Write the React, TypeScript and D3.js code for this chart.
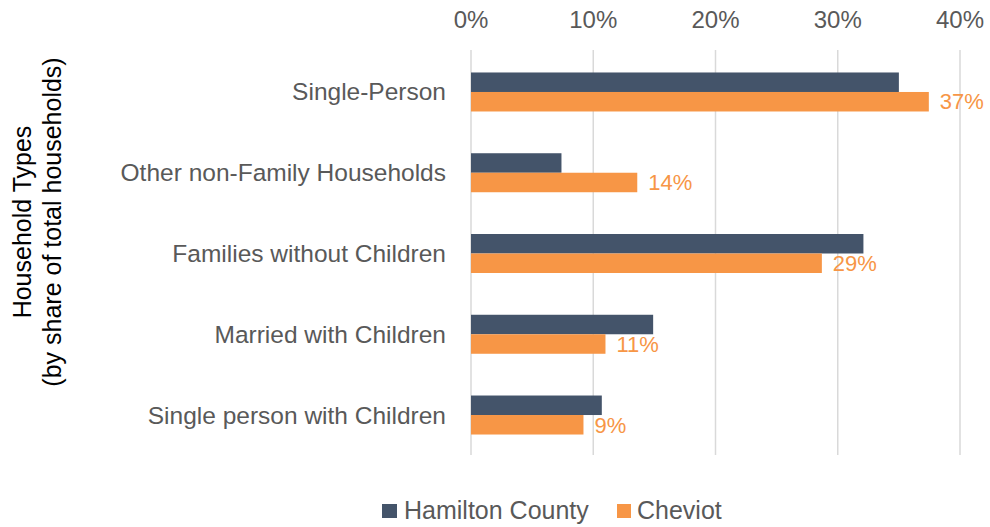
import React from "react";
import * as d3 from "d3";

const categories = [
  "Single-Person",
  "Other non-Family Households",
  "Families without Children",
  "Married with Children",
  "Single person with Children",
];
const seriesNames = ["Hamilton County", "Cheviot"];
const hamilton = [0.35, 0.074, 0.321, 0.149, 0.107];
const cheviot = [0.3745, 0.136, 0.287, 0.11, 0.092];
const xTicks = [0, 0.1, 0.2, 0.3, 0.4];

const COLORS = ["#44546A", "#F79646"];
const FONT = "'Liberation Sans', Arial, sans-serif";
const TXT = "#595959";

export default function App() {
  const W = 990, H = 527;
  const x = d3.scaleLinear().domain([0, 0.4]).range([471, 960]);
  const y = d3.scaleBand().domain(categories).range([51.6, 455.4]).paddingInner(0).paddingOuter(0);
  const barH = 19.5;
  const fmt = d3.format(".0%");
  const series = [hamilton, cheviot];

  return (
    <svg width={W} height={H} style={{ position: "absolute", left: 0, top: 0, background: "#fff" }} fontFamily={FONT}>
      {xTicks.map((t) => (
        <g key={t}>
          <line x1={x(t)} x2={x(t)} y1={50} y2={455} stroke="#D9D9D9" strokeWidth={1.5} />
          <text x={x(t)} y={28} textAnchor="middle" fontSize={24} fill={TXT}>{fmt(t)}</text>
        </g>
      ))}
      {categories.map((c, i) => {
        const cy = (y(c) as number) + y.bandwidth() / 2;
        return (
          <g key={c}>
            <text x={446} y={cy + 8.5} textAnchor="end" fontSize={24.5} fill={TXT}>{c}</text>
            {series.map((s, si) => (
              <rect key={si} x={x(0)} y={cy - barH + si * barH} width={x(s[i]) - x(0)} height={barH} fill={COLORS[si]} />
            ))}
            <text x={x(cheviot[i]) + 11} y={cy + 17.5} fontSize={22} fill={COLORS[1]}>{fmt(cheviot[i])}</text>
          </g>
        );
      })}
      <g transform="translate(31,222) rotate(-90)">
        <text textAnchor="middle" fontSize={25} fill="#000">Household Types</text>
        <text y={30} textAnchor="middle" fontSize={25} fill="#000">(by share of total households)</text>
      </g>
      <g>
        <rect x={382} y={504} width={15} height={14} fill={COLORS[0]} />
        <text x={404} y={518.5} fontSize={25} fill={TXT}>{seriesNames[0]}</text>
        <rect x={617} y={504} width={14} height={14} fill={COLORS[1]} />
        <text x={637} y={518.5} fontSize={25} fill={TXT}>{seriesNames[1]}</text>
      </g>
    </svg>
  );
}
